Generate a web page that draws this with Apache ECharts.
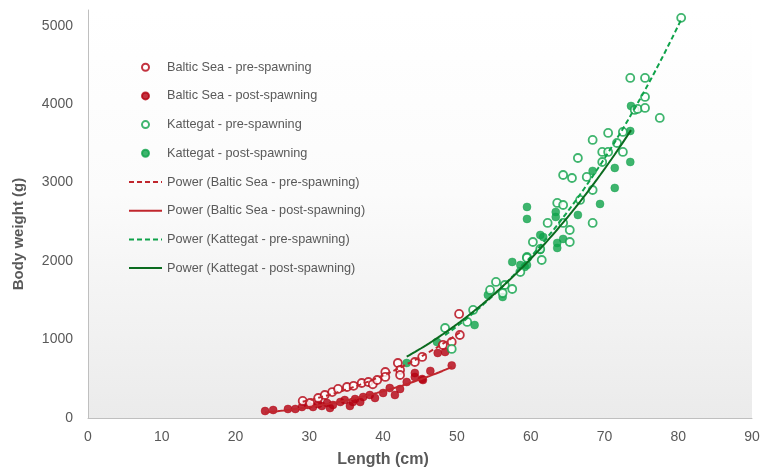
<!DOCTYPE html>
<html>
<head>
<meta charset="utf-8">
<title>Length–weight relationship</title>
<script src="https://cdn.jsdelivr.net/npm/echarts@6/dist/echarts.min.js"></script>
<style>
  html, body { margin: 0; padding: 0; background: #ffffff; }
  #chart { width: 766px; height: 476px; }
</style>
</head>
<body>
<div id="chart"></div>
<script>
// Length (cm) and body weight (g) of individual fish, by area and spawning stage
const balticPre = [
  [29.1, 217], [30.1, 191], [31.2, 255], [32.1, 293], [33.1, 331], [33.9, 370],
  [35.1, 395], [36.0, 410], [37.1, 446], [38.0, 459], [38.6, 430], [39.2, 484],
  [40.3, 586], [40.3, 523], [42.0, 701], [42.3, 612], [42.3, 548], [44.3, 714],
  [45.3, 778], [48.1, 931], [49.3, 969], [50.4, 1058], [50.3, 1326]
];
const balticPost = [
  [24.0, 89], [25.1, 102], [27.1, 115], [28.1, 115], [29.0, 140], [29.8, 166],
  [30.5, 140], [31.2, 178], [31.7, 153], [32.4, 191], [32.8, 127], [33.2, 166],
  [34.2, 204], [34.8, 229], [35.5, 153], [35.9, 204], [36.2, 242], [36.9, 204],
  [37.3, 268], [38.2, 293], [38.9, 255], [40.0, 319], [40.9, 382], [41.6, 293],
  [42.3, 370], [43.2, 459], [44.3, 523], [44.3, 574], [45.3, 497], [45.4, 484],
  [46.4, 600], [47.4, 829], [48.4, 841], [49.3, 670]
];
const kattegatPre = [
  [48.4, 1147], [49.3, 880], [51.4, 1224], [52.2, 1377], [54.5, 1632], [55.3, 1734],
  [56.5, 1695], [57.5, 1644], [56.2, 1593], [58.6, 1861], [59.5, 2052], [61.5, 2014],
  [63.6, 2741], [64.4, 2715], [62.3, 2486], [64.4, 2486], [65.3, 2396], [60.3, 2243],
  [61.3, 2154], [65.3, 2243], [68.4, 2486], [59.5, 2040], [66.7, 2779], [68.4, 3544],
  [70.5, 3633], [66.4, 3314], [69.7, 3391], [70.5, 3391], [71.7, 3505], [72.5, 3646],
  [72.5, 3391], [69.7, 3263], [64.4, 3097], [65.6, 3059], [67.6, 3072], [68.4, 2906],
  [74.1, 3926], [77.5, 3824], [80.4, 5100], [73.5, 4334], [75.5, 4334], [75.5, 4092],
  [74.5, 3939], [75.5, 3952]
];
const kattegatPost = [
  [43.2, 701], [47.3, 969], [52.4, 1185], [54.2, 1568], [56.2, 1542], [57.5, 1989],
  [58.6, 1950], [59.5, 1950], [61.3, 2141], [59.5, 2690], [59.5, 2537], [63.4, 2626],
  [63.4, 2562], [61.3, 2333], [61.7, 2307], [63.6, 2231], [63.6, 2167], [64.4, 2282],
  [66.4, 2588], [69.4, 2728], [59.2, 1925], [68.4, 3149], [71.4, 3187], [73.5, 3263],
  [71.4, 2932], [73.5, 3658], [73.6, 3977]
];

const seriesNames = [
  'Baltic Sea - pre-spawning',
  'Baltic Sea - post-spawning',
  'Kattegat - pre-spawning',
  'Kattegat - post-spawning'
];
const xTicks = { min: 0, max: 90, step: 10 };
const yTicks = { min: 0, max: 5200, step: 1000 };

// Least-squares power trend W = a * L^b, fitted on log-log scale
function powerFit(points) {
  const n = points.length;
  let sx = 0, sy = 0, sxx = 0, sxy = 0;
  points.forEach(([x, y]) => {
    const lx = Math.log(x), ly = Math.log(y);
    sx += lx; sy += ly; sxx += lx * lx; sxy += lx * ly;
  });
  const b = (n * sxy - sx * sy) / (n * sxx - sx * sx);
  const a = Math.exp((sy - b * sx) / n);
  return { a, b };
}

// Trend curve spanning the length range of the observations
function trendCurve(points, steps) {
  const { a, b } = powerFit(points);
  const xs = points.map(p => p[0]);
  const lo = Math.min(...xs), hi = Math.max(...xs);
  const out = [];
  for (let i = 0; i <= steps; i++) {
    const x = lo + (hi - lo) * i / steps;
    out.push([x, a * Math.pow(x, b)]);
  }
  return out;
}

const RED = '#b40010';
const RED_LINE = '#c0262d';
const GREEN = '#0fa24a';
const GREEN_DARK = '#0b6b1f';
const TEXT = '#595959';
const FONT = '"Liberation Sans", Arial, sans-serif';

function openMarker(name, data, color) {
  return {
    name, type: 'scatter', data, symbol: 'circle', symbolSize: 8, z: 3,
    itemStyle: { color: '#ffffff', borderColor: color, borderWidth: 1.8 }
  };
}
function filledMarker(name, data, color) {
  return {
    name, type: 'scatter', data, symbol: 'circle', symbolSize: 8, z: 2,
    itemStyle: { color: color, borderColor: color, borderWidth: 0.5 }
  };
}
function trendLine(name, data, color, dashed) {
  return {
    name, type: 'line', data, showSymbol: false, symbol: 'none', smooth: false, z: 4,
    silent: true,
    lineStyle: { color, width: 2, type: dashed ? [5, 3] : 'solid' },
    itemStyle: { color }
  };
}

const trendNames = seriesNames.map(s => 'Power (' + s + ')');

// Trend entries show only their line sample in the legend
const legendData = seriesNames.map(name => ({ name })).concat(
  trendNames.map(name => ({
    name,
    itemStyle: { opacity: 0, color: 'rgba(0,0,0,0)', borderWidth: 0 }
  }))
);

const chart = echarts.init(document.getElementById('chart'), null, { renderer: 'canvas' });
chart.setOption({
  animation: false,
  backgroundColor: '#ffffff',
  textStyle: { fontFamily: FONT },
  grid: {
    left: 88, right: 14, top: 10, bottom: 58,
    show: true, borderWidth: 0,
    backgroundColor: new echarts.graphic.LinearGradient(0, 0, 0, 1, [
      { offset: 0, color: '#ffffff' },
      { offset: 0.45, color: '#fbfbfb' },
      { offset: 1, color: '#ebebeb' }
    ])
  },
  legend: {
    orient: 'vertical', left: 128, top: 59.7, padding: 0,
    itemWidth: 33, itemHeight: 7, itemGap: 13.7,
    textStyle: { color: TEXT, fontSize: 12.7, fontFamily: FONT, lineHeight: 15 },
    data: legendData
  },
  xAxis: {
    type: 'value', min: xTicks.min, max: xTicks.max, interval: xTicks.step,
    axisLine: { show: true, lineStyle: { color: '#bfbfbf', width: 1 } },
    axisTick: { show: false },
    splitLine: { show: false },
    axisLabel: { color: TEXT, fontSize: 14, fontFamily: FONT, margin: 12 }
  },
  yAxis: {
    type: 'value', min: yTicks.min, max: yTicks.max, interval: yTicks.step,
    axisLine: { show: true, lineStyle: { color: '#bfbfbf', width: 1 } },
    axisTick: { show: false },
    splitLine: { show: false },
    axisLabel: {
      color: TEXT, fontSize: 14, fontFamily: FONT, margin: 15, showMaxLabel: false,
      formatter: v => String(v)
    }
  },
  graphic: [
    {
      type: 'text', x: 383, y: 452,
      style: { text: 'Length (cm)', fill: TEXT, font: 'bold 16px ' + FONT,
        align: 'center', verticalAlign: 'top' }
    },
    {
      type: 'text', x: 11, y: 234, rotation: Math.PI / 2,
      style: { text: 'Body weight (g)', fill: TEXT, font: 'bold 15px ' + FONT,
        align: 'center', verticalAlign: 'top' }
    }
  ],
  series: [
    openMarker(seriesNames[0], balticPre, RED),
    filledMarker(seriesNames[1], balticPost, RED),
    openMarker(seriesNames[2], kattegatPre, GREEN),
    filledMarker(seriesNames[3], kattegatPost, GREEN),
    trendLine(trendNames[0], trendCurve(balticPre, 60), RED_LINE, true),
    trendLine(trendNames[1], trendCurve(balticPost, 60), RED_LINE, false),
    trendLine(trendNames[2], trendCurve(kattegatPre, 80), GREEN, true),
    trendLine(trendNames[3], trendCurve(kattegatPost, 80), GREEN_DARK, false)
  ]
});
</script>
</body>
</html>
